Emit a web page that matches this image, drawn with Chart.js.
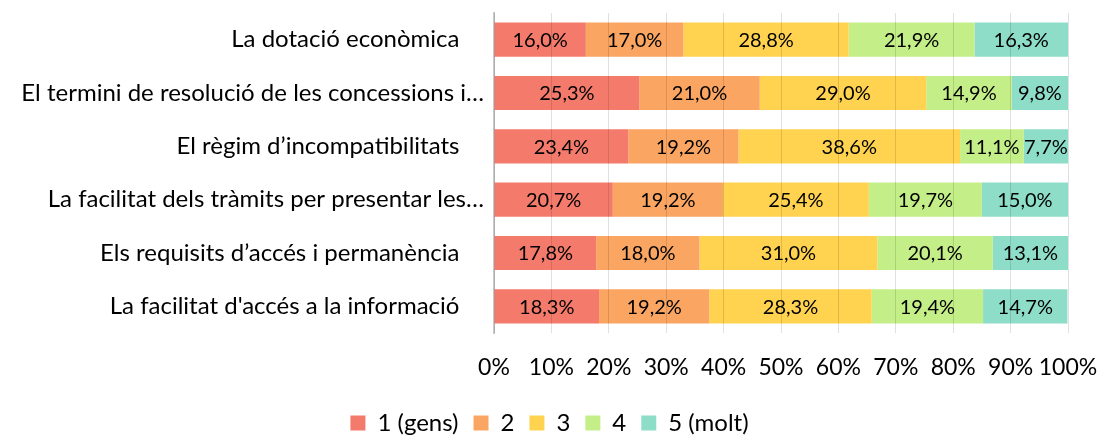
<!DOCTYPE html>
<html>
<head>
<meta charset="utf-8">
<script src="https://cdn.jsdelivr.net/npm/chart.js@4.4.1/dist/chart.umd.min.js"></script>
<style>
  html, body { margin: 0; padding: 0; background: #fff; }
  #wrap { width: 1099px; height: 435px; position: relative; }
</style>
</head>
<body>
<div id="wrap"><canvas id="chart"></canvas></div>
<script>
// Categories (top to bottom, as in the picture); trailing spaces as in the source labels
const categories = [
  'La dotació econòmica    ',
  'El termini de resolució de les concessions i…',
  'El règim d’incompatibilitats    ',
  'La facilitat dels tràmits per presentar les…',
  'Els requisits d’accés i permanència    ',
  'La facilitat d\'accés a la informació    '
];

const seriesNames = ['1 (gens)', '2', '3', '4', '5 (molt)'];
const colors = ['#F47B6B', '#FAA662', '#FFD34F', '#C3EE88', '#8EDDC8'];

// values in %
const gens1 = [16.0, 25.3, 23.4, 20.7, 17.8, 18.3];
const val2 = [17.0, 21.0, 19.2, 19.2, 18.0, 19.2];
const val3 = [28.8, 29.0, 38.6, 25.4, 31.0, 28.3];
const val4 = [21.9, 14.9, 11.1, 19.7, 20.1, 19.4];
const molt5 = [16.3, 9.8, 7.7, 15.0, 13.1, 14.7];

const xTicks = [0, 10, 20, 30, 40, 50, 60, 70, 80, 90, 100];

const FONT = 'Lato, "Open Sans", sans-serif';

// Draw the value labels inside each segment
const barLabels = {
  id: 'barLabels',
  afterDatasetsDraw(chart) {
    const ctx = chart.ctx;
    ctx.save();
    ctx.font = '20px ' + FONT;
    ctx.fillStyle = '#000';
    ctx.textAlign = 'center';
    ctx.textBaseline = 'middle';
    chart.data.datasets.forEach((ds, i) => {
      const meta = chart.getDatasetMeta(i);
      meta.data.forEach((bar, j) => {
        const v = ds.data[j];
        const x = (bar.x + bar.base) / 2;
        ctx.fillText(v.toFixed(1).replace('.', ',') + '%', x, bar.y + 1);
      });
    });
    ctx.restore();
  }
};

const series = [gens1, val2, val3, val4, molt5];

new Chart(document.getElementById('chart'), {
  type: 'bar',
  data: {
    labels: categories,
    datasets: series.map((d, i) => ({
      label: seriesNames[i],
      data: d,
      backgroundColor: colors[i],
      borderWidth: 0,
      categoryPercentage: 1,
      barPercentage: 0.64
    }))
  },
  options: {
    indexAxis: 'y',
    responsive: true,
    maintainAspectRatio: false,
    animation: false,
    layout: { padding: { top: 13, right: 0, bottom: -10, left: 0 } },
    plugins: {
      legend: {
        position: 'bottom',
        labels: {
          boxWidth: 15,
          boxHeight: 15,
          padding: 15,
          color: '#000',
          font: { family: FONT, size: 24 }
        }
      },
      tooltip: { enabled: false }
    },
    scales: {
      x: {
        stacked: true,
        min: 0,
        max: 100,
        afterBuildTicks(axis) {
          axis.ticks = xTicks.map(v => ({ value: v }));
        },
        grid: {
          color: 'rgba(0,0,0,0.12)',
          drawTicks: false,
          z: 1
        },
        border: { display: false },
        ticks: {
          padding: 21,
          color: '#000',
          font: { family: FONT, size: 23 },
          maxRotation: 0,
          autoSkip: false,
          callback: v => v + '%'
        },
        afterFit(axis) {
          axis.height = 63;
          axis.paddingLeft = 0;
          axis.paddingRight = 31;
        }
      },
      y: {
        stacked: true,
        grid: { display: false, drawTicks: false },
        border: { display: true, color: '#C8C8C8', width: 2 },
        ticks: {
          padding: 10,
          color: '#000',
          font: { family: FONT, size: 24 },
          autoSkip: false
        },
        afterFit(axis) {
          axis.width = 494;
          axis.paddingTop = 0;
          axis.paddingBottom = 0;
        }
      }
    }
  },
  plugins: [barLabels]
});
</script>
</body>
</html>
